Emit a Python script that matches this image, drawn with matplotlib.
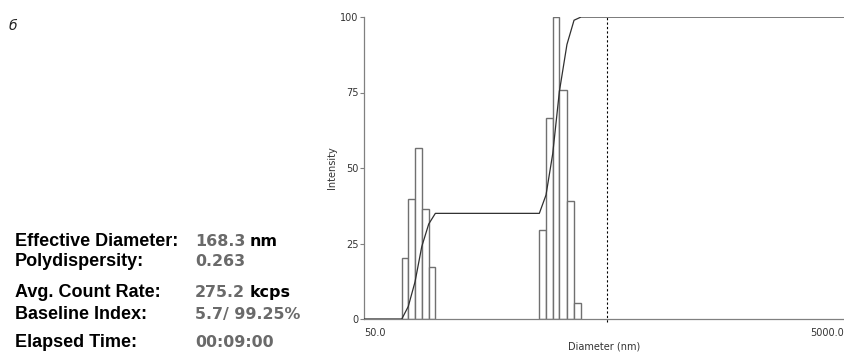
import numpy as np
import matplotlib
matplotlib.use("Agg")
import matplotlib.pyplot as plt

# size distribution bins (nm) and intensities
bin_edges_1 = [71.8, 76.4, 81.5, 86.9, 92.9, 99.0]
heights_1 = [20.2, 39.6, 56.5, 36.5, 17.2]
bin_edges_2 = [267.9, 285.6, 304.6, 324.6, 349.0, 373.5, 399.6]
heights_2 = [29.5, 66.6, 100.0, 75.7, 39.0, 5.2]

x_min, x_max = 50.0, 5000.0
cursor_d = 510.0
y_ticks = [0, 25, 50, 75, 100]

stat_labels = ["Effective Diameter:", "Polydispersity:", "Avg. Count Rate:",
               "Baseline Index:", "Elapsed Time:"]
stat_values = ["168.3", "0.263", "275.2", "5.7/ 99.25%", "00:09:00"]
stat_units = ["nm", "", "kcps", "", ""]

W, H = 845, 357
fig = plt.figure(figsize=(W / 100, H / 100), dpi=100)

def fx(px):
    return px / W

def fy(py):
    return 1 - py / H

ax = fig.add_axes([fx(364), fy(319), 1 - fx(364), fy(17) - fy(319)])
ax.set_xscale("log")

edge_col = "#707070"
for edges, hts in [(bin_edges_1, heights_1), (bin_edges_2, heights_2)]:
    left = np.array(edges[:-1])
    right = np.array(edges[1:])
    ax.bar(left, hts, width=right - left, align="edge", color="white",
           edgecolor=edge_col, linewidth=1.0, zorder=2)

# cumulative curve from the bins
total = sum(heights_1) + sum(heights_2)
cx = [x_min]
cy = [0.0]
run = 0.0
cx.append(bin_edges_1[0]); cy.append(0.0)
for e, h in zip(bin_edges_1[1:], heights_1):
    run += h
    cx.append(e); cy.append(run / total * 100)
cx.append(bin_edges_2[0]); cy.append(run / total * 100)
for e, h in zip(bin_edges_2[1:], heights_2):
    run += h
    cx.append(e); cy.append(run / total * 100)
cx.append(x_max); cy.append(100.0)
ax.plot(cx, cy, color="#303030", linewidth=0.9, zorder=3)

ax.plot([cursor_d, cursor_d], [-1.0, 100], color="black", linewidth=0.8,
        linestyle=(0, (2, 2)), zorder=4, clip_on=False)

ax.set_xlim(x_min, x_max)
ax.set_ylim(0, 100)
for s in ["top", "right"]:
    ax.spines[s].set_visible(False)
for s in ["left", "bottom"]:
    ax.spines[s].set_color("#808080")
    ax.spines[s].set_linewidth(0.9)

ax.set_yticks(y_ticks)
ax.set_yticklabels([str(t) for t in y_ticks])
ax.tick_params(axis="y", length=3, width=0.8, color="#808080", pad=1,
               labelsize=7, labelcolor="#333333")
ax.set_xticks([])
ax.xaxis.set_minor_locator(matplotlib.ticker.NullLocator())

ax.text(0.0, -0.03, "50.0", transform=ax.transAxes, ha="left", va="top",
        fontsize=7, color="#333333")
ax.text(0.997, -0.03, "5000.0", transform=ax.transAxes, ha="right", va="top",
        fontsize=7, color="#333333")
ax.text(0.5, -0.075, "Diameter (nm)", transform=ax.transAxes, ha="center",
        va="top", fontsize=7, color="#333333")
fig.text(fx(332), fy(168), "Intensity", rotation=90, ha="center",
         va="center", fontsize=7, color="#333333")

fig.text(fx(9), fy(30), "б", fontsize=10, style="italic", color="#222222")

baselines = [245.7, 266.0, 296.7, 318.7, 346.7]
for lab, val, unit, by in zip(stat_labels, stat_values, stat_units, baselines):
    fig.text(fx(15), fy(by), lab, fontsize=13, fontweight="bold",
             family="Liberation Sans", va="baseline", color="black")
    fig.text(fx(195), fy(by), val, fontsize=11.4, fontweight="bold",
             family="DejaVu Sans", va="baseline", color="#6a6a6a")
    if unit:
        fig.text(fx(250), fy(by), unit, fontsize=11.4, fontweight="bold",
                 family="DejaVu Sans", va="baseline", color="black")

fig.savefig("out.png", dpi=100)
